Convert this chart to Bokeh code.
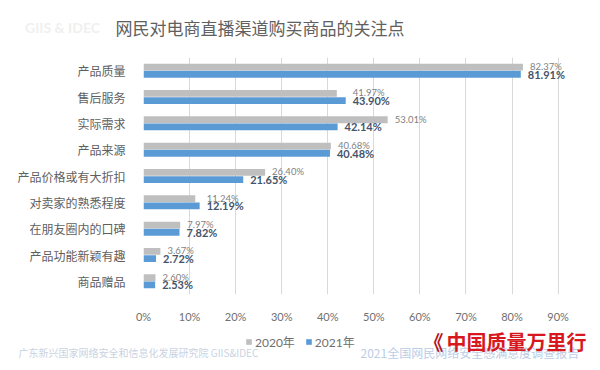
from bokeh.plotting import figure
from bokeh.models import (ColumnDataSource, FactorRange, Range1d, FixedTicker, Legend,
                          LegendItem)
from bokeh.layouts import column
from bokeh.transform import dodge
from bokeh.core.properties import value
from bokeh.embed import file_html
from bokeh.resources import INLINE
import numpy as np

title = "网民对电商直播渠道购买商品的关注点"
categories = ["产品质量", "售后服务", "实际需求", "产品来源", "产品价格或有大折扣",
              "对卖家的熟悉程度", "在朋友圈内的口碑", "产品功能新颖有趣", "商品赠品"]
v2020 = [82.37, 41.97, 53.01, 40.68, 26.40, 11.24, 7.97, 3.67, 2.60]
v2021 = [81.91, 43.90, 42.14, 40.48, 21.65, 12.19, 7.82, 2.72, 2.53]
series_names = ["2020年", "2021年"]
x_ticks = [0, 10, 20, 30, 40, 50, 60, 70, 80, 90]
x_tick_labels = ["0%", "10%", "20%", "30%", "40%", "50%", "60%", "70%", "80%", "90%"]
header_mark = "GIIS & IDEC"
footer_left = "广东新兴国家网络安全和信息化发展研究院  GIIS&IDEC"
footer_right = "2021全国网民网络安全感满意度调查报告"
logo_text = "中国质量万里行"

GRAY = "#BFBFBF"
BLUE = "#5B9BD5"
TXT = "#595959"
TICK = "#707070"
LAT = "Lato, Noto Sans CJK SC"
CJK = "Noto Sans CJK SC"


def strip(height, y_top, y_bottom):
    s = figure(width=600, height=height, output_backend="svg", toolbar_location=None,
               x_range=Range1d(0, 600), y_range=Range1d(y_bottom, y_top),
               min_border=0, min_border_left=0, min_border_right=0,
               min_border_top=0, min_border_bottom=0)
    s.axis.visible = False
    s.grid.visible = False
    s.outline_line_color = None
    s.background_fill_color = "white"
    s.border_fill_color = "white"
    s.frame_align = False
    return s


# header strip (ranges in pixels of the strip)
h = strip(45, 0, 45)
h.text(x=[115], y=[27], text=[title], text_font=value(CJK), text_font_size="17px",
       text_color="#606060", text_baseline="middle")
h.text(x=[62], y=[27], text=[header_mark], text_font=value(LAT), text_font_size="14px",
       text_font_style="bold", text_color="#F0F0F0", text_align="center",
       text_baseline="middle")

src = ColumnDataSource(dict(
    cat=categories, v20=v2020, v21=v2021,
    x20=list(np.maximum(v2020, v2021)),
    l20=[f"{v:.2f}%" for v in v2020],
    l21=[f"{v:.2f}%" for v in v2021],
))

p = figure(width=600, height=280, output_backend="svg", toolbar_location=None,
           y_range=FactorRange(*reversed(categories)), x_range=Range1d(0, 94),
           min_border_left=143, min_border_right=24, min_border_top=12,
           min_border_bottom=28)
p.frame_align = False
p.outline_line_color = None
p.background_fill_color = "white"
p.border_fill_color = "white"

p.hbar(y=dodge("cat", 0.135, range=p.y_range), right="v20", left=0, height=0.26,
       source=src, fill_color=GRAY, line_color=None)
p.hbar(y=dodge("cat", -0.135, range=p.y_range), right="v21", left=0, height=0.26,
       source=src, fill_color=BLUE, line_color=None)

p.text(x="x20", y=dodge("cat", 0.16, range=p.y_range), text="l20", source=src,
       x_offset=7, text_baseline="middle", text_font=value(LAT),
       text_font_size="9.5px", text_color="#7F7F7F")
p.text(x="v21", y=dodge("cat", -0.13, range=p.y_range), text="l21", source=src,
       x_offset=7, text_baseline="middle", text_font=value(LAT),
       text_font_size="11px", text_font_style="bold", text_color="#44546A")

p.xaxis.ticker = FixedTicker(ticks=x_ticks)
p.xaxis.major_label_overrides = dict(zip(x_ticks, x_tick_labels))
p.xaxis.axis_line_color = None
p.xaxis.major_tick_line_color = None
p.xaxis.minor_tick_line_color = None
p.xaxis.major_label_text_font = LAT
p.xaxis.major_label_text_font_size = "11px"
p.xaxis.major_label_text_color = TICK
p.xaxis.major_label_standoff = 9

p.yaxis.axis_line_color = None
p.yaxis.major_tick_line_color = None
p.yaxis.major_label_text_font = CJK
p.yaxis.major_label_text_font_size = "12px"
p.yaxis.major_label_text_color = "#606060"
p.yaxis.major_label_standoff = 12

p.xgrid.ticker = FixedTicker(ticks=x_ticks)
p.xgrid.grid_line_color = "#D9D9D9"
p.ygrid.grid_line_color = None

# footer strip: legend, source notes and logo
f = strip(45, 325, 370)
lg = f.rect(x=[np.nan], y=[np.nan], width=1, height=1,
            fill_color=GRAY, line_color=None)
lb = f.rect(x=[np.nan], y=[np.nan], width=1, height=1,
            fill_color=BLUE, line_color=None)
legend = Legend(items=[LegendItem(label=series_names[0], renderers=[lg]),
                       LegendItem(label=series_names[1], renderers=[lb])],
                location=(245, 20), orientation="horizontal",
                label_text_font=LAT, label_text_font_size="12px",
                label_text_color=TICK, glyph_width=7, glyph_height=7,
                label_height=16, spacing=10, padding=0, margin=0,
                border_line_color=None, background_fill_alpha=0, label_standoff=3)
f.add_layout(legend, "center")

f.text(x=[18], y=[352], text=[footer_left], text_font=value(CJK),
       text_font_size="10px", text_color="#C9D3DF", text_baseline="middle")
f.text(x=[360], y=[352], text=[footer_right], text_font=value(CJK),
       text_font_size="12px", text_color="#BCCDE6", text_baseline="middle")
f.text(x=[446], y=[341], text=[logo_text], text_font=value(CJK),
       text_font_size="20px", text_font_style="bold", text_color="#D7191F",
       text_baseline="middle")
f.text(x=[433], y=[341], text=["《"], text_font=value(CJK),
       text_font_size="20px", text_font_style="bold", text_color="#B3141B",
       text_align="center", text_baseline="middle")

open("out.html", "w").write(file_html(column(h, p, f, spacing=0), INLINE))
